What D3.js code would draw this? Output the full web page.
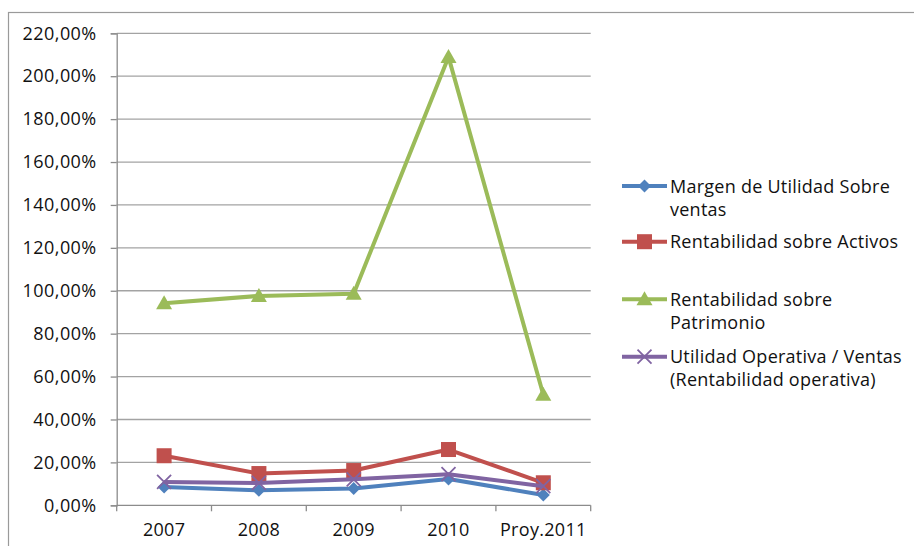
<!DOCTYPE html>
<html>
<head>
<meta charset="utf-8">
<script src="https://cdn.jsdelivr.net/npm/d3@7"></script>
<style>
  html, body { margin: 0; padding: 0; background: #fff; }
  svg { display: block; font-family: "Open Sans", sans-serif; }
</style>
</head>
<body>
<svg id="chart" width="914" height="546"></svg>
<script>
// Years on the horizontal axis
const categories = ["2007", "2008", "2009", "2010", "Proy.2011"];

// Ratios in percent
const margenVentas     = [8.5, 7.0, 7.8, 12.3, 4.8];
const rentActivos      = [23.1, 14.8, 16.2, 26.0, 10.5];
const rentPatrimonio   = [94.2, 97.6, 98.6, 209.0, 51.5];
const utilidadOperativa = [10.9, 10.4, 12.1, 14.5, 8.9];

const seriesNames = [
  ["Margen de Utilidad Sobre", "ventas"],
  ["Rentabilidad sobre Activos"],
  ["Rentabilidad sobre", "Patrimonio"],
  ["Utilidad Operativa / Ventas", "(Rentabilidad operativa)"]
];
const seriesColors = ["#4F81BD", "#C0504D", "#9BBB59", "#8064A2"];
const seriesMarkers = ["diamond", "square", "triangle", "cross"];

const yTicks = [0, 20, 40, 60, 80, 100, 120, 140, 160, 180, 200, 220];

const series = [margenVentas, rentActivos, rentPatrimonio, utilidadOperativa].map((values, i) => ({
  name: seriesNames[i], color: seriesColors[i], marker: seriesMarkers[i], values
}));

const svg = d3.select("#chart");

// Outer chart frame (top and left edges visible)
svg.append("rect")
  .attr("x", 8.5).attr("y", 12.5)
  .attr("width", 1000).attr("height", 1000)
  .attr("fill", "none").attr("stroke", "#9a9a9a").attr("stroke-width", 1.2);

const plot = { left: 116.7, right: 590.7, top: 33.3, bottom: 505.3 };

const x = d3.scaleBand().domain(categories).range([plot.left, plot.right]);
const y = d3.scaleLinear().domain([0, 220]).range([plot.bottom, plot.top]);

const fmt = v => d3.format(".2f")(v).replace(".", ",") + "%";

// Horizontal gridlines
svg.append("g")
  .selectAll("line").data(yTicks.filter(d => d > 0)).join("line")
  .attr("x1", plot.left).attr("x2", plot.right)
  .attr("y1", d => y(d)).attr("y2", d => y(d))
  .attr("stroke", "#a3a3a3").attr("stroke-width", 1.3);

// Y axis
const yAxis = svg.append("g")
  .attr("transform", `translate(${plot.left},0)`)
  .call(d3.axisLeft(y).tickValues(yTicks).tickFormat(fmt).tickSize(6).tickPadding(14));
yAxis.select(".domain").attr("stroke", "#8c8c8c").attr("stroke-width", 1.3);
yAxis.selectAll(".tick line").attr("stroke", "#8c8c8c").attr("stroke-width", 1.3);
yAxis.selectAll("text").attr("font-size", 18).attr("letter-spacing", 0.45).attr("fill", "#111")
  .attr("font-family", "'Open Sans', sans-serif");

// X axis with ticks between categories
const xAxisG = svg.append("g").attr("transform", `translate(0,${plot.bottom})`);
xAxisG.append("line")
  .attr("x1", plot.left).attr("x2", plot.right)
  .attr("stroke", "#8c8c8c").attr("stroke-width", 1.3);
const boundaries = categories.map(c => x(c)).concat([x(categories[categories.length - 1]) + x.bandwidth()]);
xAxisG.selectAll("line.tk").data(boundaries).join("line").attr("class", "tk")
  .attr("x1", d => d).attr("x2", d => d).attr("y1", 0).attr("y2", 6)
  .attr("stroke", "#8c8c8c").attr("stroke-width", 1.3);
xAxisG.selectAll("text").data(categories).join("text")
  .attr("x", d => x(d) + x.bandwidth() / 2).attr("y", 31)
  .attr("text-anchor", "middle").attr("font-size", 18).attr("letter-spacing", 0.3).attr("fill", "#111")
  .text(d => d);

// Marker shapes
function drawMarker(g, type, color) {
  if (type === "diamond") {
    g.append("path").attr("d", "M0,-6.5L6.5,0L0,6.5L-6.5,0Z").attr("fill", color);
  } else if (type === "square") {
    g.append("rect").attr("x", -7.5).attr("y", -7.5).attr("width", 15).attr("height", 15).attr("fill", color);
  } else if (type === "triangle") {
    g.append("path").attr("d", "M0,-8L8,6L-8,6Z").attr("fill", color);
  } else if (type === "cross") {
    g.append("path").attr("d", "M-7,-7L7,7M-7,7L7,-7").attr("stroke", color).attr("stroke-width", 1.8);
  }
}

const line = d3.line()
  .x((d, i) => x(categories[i]) + x.bandwidth() / 2)
  .y(d => y(d));

series.forEach(s => {
  const g = svg.append("g");
  g.append("path").datum(s.values)
    .attr("d", line).attr("fill", "none")
    .attr("stroke", s.color).attr("stroke-width", 4)
    .attr("stroke-linejoin", "round");
  s.values.forEach((v, i) => {
    const m = g.append("g")
      .attr("transform", `translate(${x(categories[i]) + x.bandwidth() / 2},${y(v)})`);
    drawMarker(m, s.marker, s.color);
  });
});

// Legend
const legendRows = [186, 241.7, 299.3, 356.7];
const legend = svg.append("g");
series.forEach((s, i) => {
  const g = legend.append("g").attr("transform", `translate(0,${legendRows[i]})`);
  g.append("line").attr("x1", 622).attr("x2", 667).attr("y1", 0).attr("y2", 0)
    .attr("stroke", s.color).attr("stroke-width", 4);
  const m = g.append("g").attr("transform", "translate(644.5,0)");
  drawMarker(m, s.marker, s.color);
  s.name.forEach((t, j) => {
    g.append("text").attr("x", 670).attr("y", j * 23 + 6.5)
      .attr("font-size", 18).attr("letter-spacing", 0.25).attr("fill", "#111").text(t);
  });
});
</script>
</body>
</html>
